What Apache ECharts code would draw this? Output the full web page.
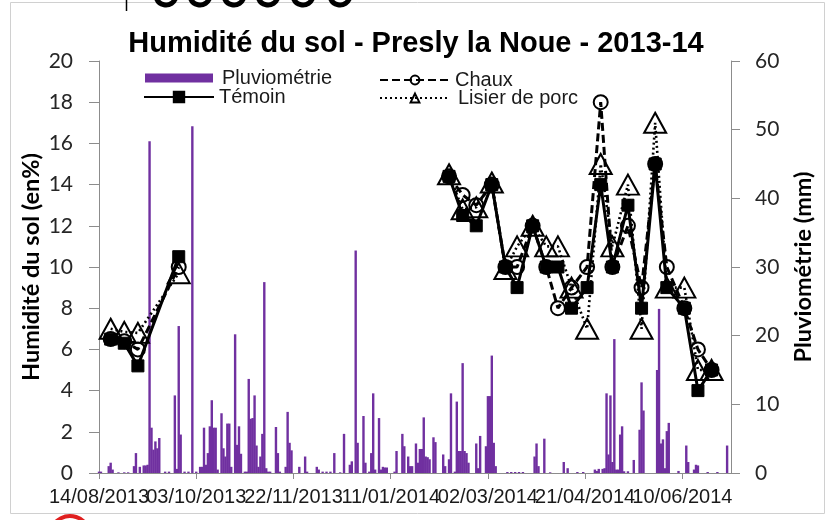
<!DOCTYPE html>
<html>
<head>
<meta charset="utf-8">
<script src="https://cdn.jsdelivr.net/npm/echarts@6/dist/echarts.min.js"></script>
<style>
  html, body { margin: 0; padding: 0; background: #fff; }
  #chart { width: 827px; height: 520px; }
</style>
</head>
<body>
<div id="chart"></div>
<script>
// Day 0 of the date axis is 14/08/2013
const startDate = Date.UTC(2013, 7, 14);

// Daily rainfall (mm): day offset and amount
const rainDays = [0,1,5,6,7,10,13,15,18,19,21,23,24,25,26,27,28,29,30,31,34,36,39,40,41,42,44,46,48,50,
  52,53,54,55,56,57,58,59,60,61,63,64,65,66,67,68,70,71,72,73,75,76,77,78,79,80,81,82,83,84,85,86,87,88,
  91,92,93,96,97,98,99,103,106,107,112,113,115,117,119,121,124,126,129,130,132,133,136,137,139,140,141,142,
  144,145,146,147,148,152,153,156,157,159,160,161,163,164,165,166,167,168,169,170,172,173,177,178,180,181,
  183,184,185,186,187,188,189,190,194,195,196,199,200,201,202,203,204,210,212,214,216,218,224,225,226,229,
  232,239,241,246,249,255,256,257,259,260,261,262,263,264,265,266,267,268,269,270,272,275,278,279,280,287,
  288,289,290,291,292,293,298,302,303,306,307,308,313,318,323];
const rainMm = [0.2,0.2,1.0,1.5,0.5,0.1,0.1,0.1,1.0,2.9,0.9,1.1,1.1,1.2,48.3,6.6,3.4,4.6,3.6,5.1,0.2,0.2,11.3,0.6,21.4,5.6,0.2,0.2,50.5,0.2,
  0.9,0.9,6.6,1.2,2.9,6.8,10.6,6.6,6.6,0.5,8.7,3.6,2.4,7.2,7.2,0.9,20.2,4.1,6.8,2.8,0.2,0.2,13.7,7.9,8.0,11.3,4.0,0.9,2.4,5.7,27.8,0.7,0.2,0.2,
  6.7,2.9,0.2,0.9,8.9,4.4,3.3,0.9,2.4,0.2,0.9,0.5,0.2,0.2,0.2,2.9,0.1,5.7,1.2,1.7,32.4,4.4,8.3,1.5,0.2,2.9,11.6,0.5,
  8.0,0.5,0.9,0.8,0.8,0.2,3.2,5.7,3.9,2.4,1.0,1.0,4.3,1.5,3.5,3.5,8.1,2.4,2.3,2.0,5.2,4.5,2.7,1.0,2.0,11.6,
  0.2,10.4,3.2,3.2,16.0,3.2,2.9,1.5,4.3,0.7,5.4,3.9,11.2,11.2,17.1,4.4,1.0,0.15,0.15,0.15,0.15,0.15,2.4,4.3,1.0,5.0,
  0.1,1.6,0.7,0.15,0.15,0.5,0.3,0.6,0.6,0.7,11.6,2.7,11.3,1.6,19.5,0.5,0.5,5.6,6.8,0.25,0.25,1.9,6.3,13.2,9.1,15.0,
  23.9,4.3,4.9,0.7,6.1,7.3,0.3,4.0,1.6,0.5,1.2,1.1,0.15,0.15,4.0];

// Soil moisture sampling days (null marks the break between the two campaigns)
const sampleDays = [6,13,20,41,null,180,187,194,202,209,215,223,230,236,243,251,258,264,272,279,286,292,301,308,315];
const temoin = [6.5,6.3,5.2,10.5,null,14.4,12.5,12.0,14.0,10.0,9.0,12.0,10.0,10.0,8.0,9.0,14.0,10.0,13.0,8.0,15.0,9.0,8.0,4.0,5.0];
const chaux  = [6.5,6.4,6.0,10.0,null,14.4,13.5,13.0,14.0,10.0,10.0,12.0,10.0,8.0,9.0,10.0,18.0,10.0,12.0,9.0,15.0,10.0,8.0,6.0,5.0];
const lisier = [7.0,6.85,6.8,9.7,null,14.5,12.8,12.9,14.1,9.9,11.0,12.0,11.0,11.0,9.0,7.0,15.0,11.0,14.0,7.0,17.0,9.0,9.0,5.0,5.0];

// Date axis ticks every 50 days; labels are split over two axes so that
// neighbouring (overlapping) date labels are all kept
const dateTicks = [0,50,100,150,200,250,300];
const dateLabelsA = [0,100,200,300];
const dateLabelsB = [50,150,250];

function pairs(xs, ys) {
  return xs.map((x, i) => (x === null ? [null, null] : [x, ys[i]]));
}
function fmtDate(d) {
  const t = new Date(startDate + d * 86400000);
  const dd = String(t.getUTCDate()).padStart(2, '0');
  const mm = String(t.getUTCMonth() + 1).padStart(2, '0');
  return dd + '/' + mm + '/' + t.getUTCFullYear();
}

const axisGray = '#8c8c8c';
const labelFont = 'Lato, "Open Sans", sans-serif';
const textFont = '"Liberation Sans", Arial, sans-serif';

function dateAxis(labelValues, withLine) {
  return {
    type: 'value', min: 0, max: 325, interval: 50, position: 'bottom', offset: 0,
    axisLine: { show: withLine, onZero: false, lineStyle: { color: axisGray, width: 1 } },
    axisTick: { show: withLine, inside: false, length: 6, lineStyle: { color: axisGray }, customValues: dateTicks },
    axisLabel: { customValues: labelValues, formatter: fmtDate, margin: 14,
      showMinLabel: true, showMaxLabel: true, hideOverlap: false,
      fontFamily: textFont, fontSize: 20, color: '#1a1a1a' },
    splitLine: { show: false }
  };
}

// Remnants of the page the chart was cut from: a rule and letter bowls at the
// top edge, a red ring at the bottom edge
const bowlX = [166, 200, 234, 268, 303, 340];
const pageBits = [
  { type: 'rect', silent: true, z: -10,
    shape: { x: 10.5, y: 2.5, width: 814, height: 511 },
    style: { fill: 'none', stroke: '#d0d0d0', lineWidth: 1 } },
  { type: 'line', silent: true, shape: { x1: 126.5, y1: 0, x2: 126.5, y2: 11 },
    style: { stroke: '#000', lineWidth: 1.5 } },
  { type: 'arc', silent: true, shape: { cx: 70, cy: 536, r: 20, startAngle: Math.PI * 1.1, endAngle: Math.PI * 1.75 },
    style: { stroke: '#e02020', lineWidth: 4, fill: 'none' } }
].concat(bowlX.map(x => ({
  type: 'arc', silent: true, shape: { cx: x, cy: -5, r: 10, startAngle: 0.2, endAngle: Math.PI - 0.2 },
  style: { stroke: '#000', lineWidth: 5, fill: 'none' }
})));

const chart = echarts.init(document.getElementById('chart'));
chart.setOption({
  animation: false,
  backgroundColor: '#ffffff',
  title: {
    text: 'Humidité du sol - Presly la Noue - 2013-14',
    left: 416, top: 29, textAlign: 'center', padding: 0,
    textStyle: { fontFamily: textFont, fontWeight: 'bold', fontSize: 29, color: '#000' }
  },
  graphic: pageBits,
  legend: [
    { data: [{ name: 'Pluviométrie', icon: 'rect' }], left: 145, top: 68, padding: 0,
      itemWidth: 68, itemHeight: 9,
      textStyle: { fontFamily: textFont, fontSize: 20, color: '#1a1a1a', padding: [0, 0, 0, 4] } },
    { data: ['Témoin'], left: 143, top: 87, padding: 0, itemWidth: 70, itemHeight: 13,
      textStyle: { fontFamily: textFont, fontSize: 20, color: '#1a1a1a' } },
    { data: ['Chaux'], left: 379, top: 70, padding: 0, itemWidth: 70, itemHeight: 11,
      textStyle: { fontFamily: textFont, fontSize: 20, color: '#1a1a1a' } },
    { data: ['Lisier de porc'], left: 379, top: 88, padding: 0, itemWidth: 70, itemHeight: 11,
      textStyle: { fontFamily: textFont, fontSize: 20, color: '#1a1a1a', padding: [0, 0, 0, 3] } }
  ],
  grid: { left: 99, right: 96, top: 61, bottom: 47, containLabel: false },
  xAxis: [dateAxis(dateLabelsA, true), dateAxis(dateLabelsB, false)],
  yAxis: [
    { type: 'value', min: 0, max: 20, interval: 2, position: 'left',
      name: 'Humidité du sol (en%)', nameLocation: 'middle', nameGap: 56, nameRotate: 90,
      nameMoveOverlap: false,
      nameTextStyle: { fontFamily: labelFont, fontWeight: 'bold', fontSize: 23.5, color: '#000' },
      axisLine: { show: true, onZero: false, lineStyle: { color: axisGray } },
      axisTick: { show: true, inside: false, length: 10, lineStyle: { color: axisGray } },
      axisLabel: { margin: 26, fontFamily: labelFont, fontSize: 21, color: '#262626' },
      splitLine: { show: false } },
    { type: 'value', min: 0, max: 60, interval: 10, position: 'right',
      name: 'Pluviométrie (mm)', nameLocation: 'middle', nameGap: 60, nameRotate: 90,
      nameMoveOverlap: false,
      nameTextStyle: { fontFamily: labelFont, fontWeight: 'bold', fontSize: 23.5, color: '#000' },
      axisLine: { show: true, onZero: false, lineStyle: { color: axisGray } },
      axisTick: { show: true, inside: false, length: 9, lineStyle: { color: axisGray } },
      axisLabel: { margin: 24, fontFamily: labelFont, fontSize: 21, color: '#262626' },
      splitLine: { show: false } }
  ],
  series: [
    { name: 'Pluviométrie', type: 'bar', yAxisIndex: 1, barWidth: 2.4,
      data: pairs(rainDays, rainMm),
      itemStyle: { color: '#7030a0' }, z: 1 },
    { name: 'Lisier de porc', type: 'line', data: pairs(sampleDays, lisier),
      symbol: 'triangle', symbolSize: [22, 20],
      lineStyle: { color: '#000', width: 2.6, type: [2, 3] },
      itemStyle: { color: 'rgba(255,255,255,0)', borderColor: '#000', borderWidth: 2 }, z: 3 },
    { name: 'Chaux', type: 'line', data: pairs(sampleDays, chaux),
      symbol: 'circle', symbolSize: 14,
      lineStyle: { color: '#000', width: 3, type: [8, 4] },
      itemStyle: { color: 'rgba(255,255,255,0)', borderColor: '#000', borderWidth: 2 }, z: 4 },
    { name: 'Témoin', type: 'line', data: pairs(sampleDays, temoin),
      symbol: 'rect', symbolSize: 12,
      lineStyle: { color: '#000', width: 3 },
      itemStyle: { color: '#000', borderColor: '#000', borderWidth: 1 }, z: 5 }
  ]
});
</script>
</body>
</html>
